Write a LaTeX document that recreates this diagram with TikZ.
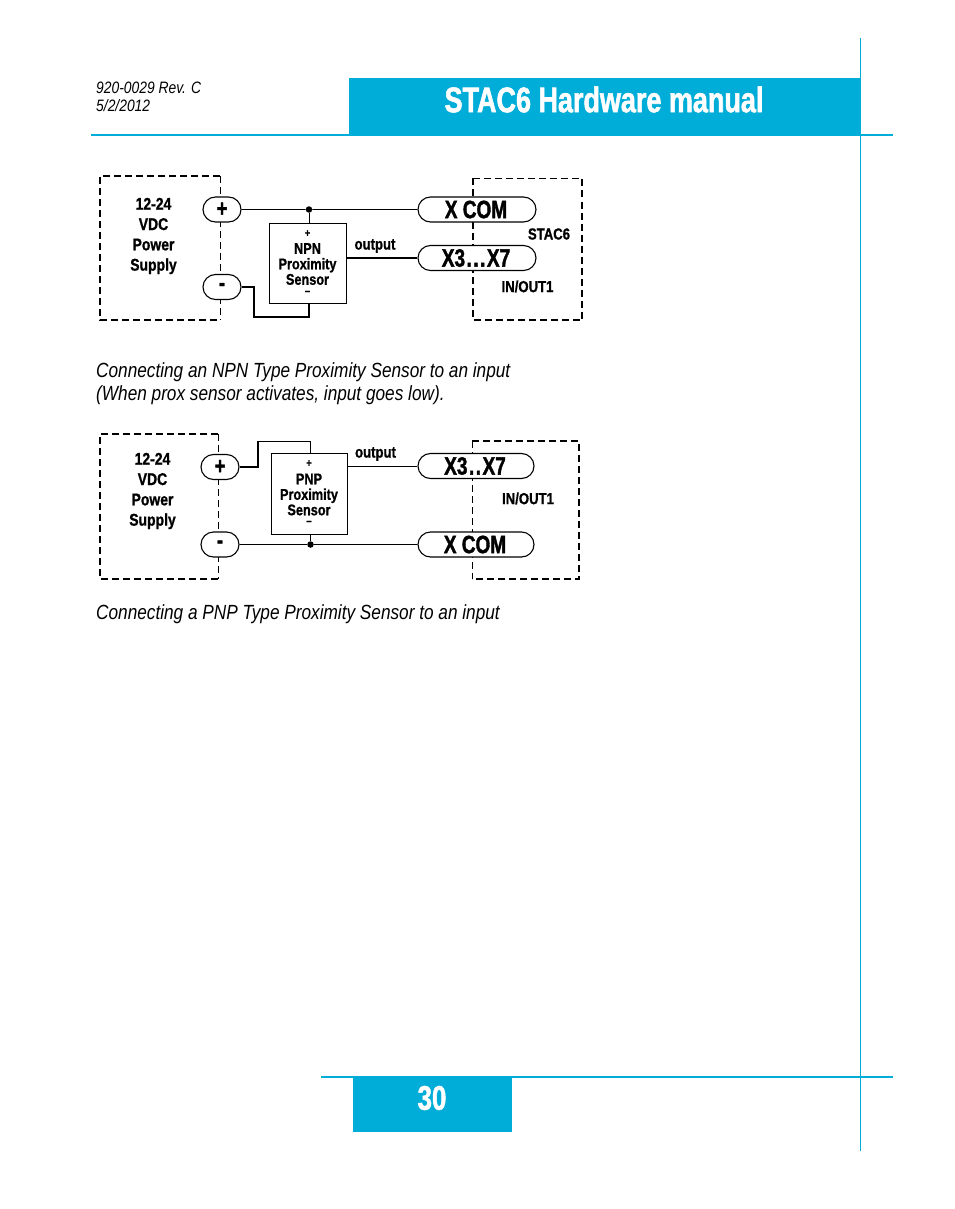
\documentclass[tikz,border=0pt]{standalone}
\usepackage{fontspec}
\setmainfont{Liberation Sans}
\newfontfamily\cond[FakeStretch=0.74,BoldFeatures={FakeBold=1.2}]{Liberation Sans}
\newfontfamily\condbig[FakeStretch=0.76,BoldFeatures={FakeBold=1.5}]{Liberation Sans}
\newfontfamily\condx[FakeStretch=0.82,BoldFeatures={FakeBold=0.9}]{Liberation Sans}
\newfontfamily\condit[FakeStretch=0.84]{Liberation Sans}
\usetikzlibrary{shapes.misc}
\definecolor{brand}{HTML}{00ADD8}
\tikzset{
  pill/.style={rounded rectangle,draw=black,line width=1.1pt,fill=white,inner sep=0pt,text=black},
  bigpill/.style={pill,font=\condbig\bfseries\fontsize{25}{25}\selectfont},
  sign/.style={pill,font=\condbig\bfseries\fontsize{24}{24}\selectfont},
  sensorbox/.style={draw=black,line width=0.95pt,inner sep=0pt,fill=white},
  wire/.style={line width=0.8pt,draw=black},
  thickwire/.style={line width=1.8pt,draw=black},
  dashA/.style={line width=1.4pt,dash pattern=on 7pt off 4pt},
  dashB/.style={line width=0.7pt,dash pattern=on 7pt off 4pt},
  junction/.style={circle,fill=black,inner sep=0pt,minimum size=6.5pt},
  smalllabel/.style={inner sep=0pt,align=center,font=\condx\bfseries\fontsize{17}{20.3}\selectfont},
  sensortext/.style={inner sep=0pt,align=center,font=\condx\bfseries\fontsize{15.5}{15.5}\selectfont},
  sensorsign/.style={inner sep=0pt,font=\condx\bfseries\fontsize{11}{11}\selectfont},
  tinylabel/.style={inner sep=0pt,font=\condx\bfseries\fontsize{16}{16}\selectfont},
  caption/.style={inner sep=0pt,anchor=west,font=\condit\itshape\fontsize{20.5}{20.5}\selectfont},
  header/.style={inner sep=0pt,anchor=west,font=\condit\itshape\fontsize{16.5}{16.5}\selectfont},
}
\newcommand{\sgn}[1]{\raisebox{-3pt}{#1}}
\begin{document}
\begin{tikzpicture}[x=1pt,y=-1pt]
\useasboundingbox (0,0) rectangle (954,1209);
\fill[white] (0,0) rectangle (954,1209);
% page frame
\fill[brand] (349,78) rectangle (860,135);
\fill[brand] (91,134) rectangle (893,136);
\draw[brand,line width=1pt] (860,38) -- (860,1151);
\fill[brand] (321,1076) rectangle (893,1078);
\fill[brand] (353,1077) rectangle (512,1132);
\node[inner sep=0pt,text=white,font=\condbig\bfseries\fontsize{35.5}{36}\selectfont] (title) at (604,99.5) {STAC6 Hardware manual};
\node[inner sep=0pt,text=white,font=\condbig\bfseries\fontsize{34}{34}\selectfont] (pagenum) at (432,1098) {30};
\node[header] (rev) at (96,87.5) {920-0029 Rev. C};
\node[header] (date) at (96,106) {5/2/2012};
% diagram 1
\draw[dashA] (220,176) -- (100,176) -- (100,320) -- (220,320);
\draw[dashB] (220,176) -- (220,320);
\draw[dashA] (473,178.5) -- (582,178.5) -- (582,320) -- (473,320) -- cycle;
\node[sign,minimum width=38pt,minimum height=25pt] (plusA) at (222,209.5) {\sgn{+}};
\node[sign,minimum width=38pt,minimum height=25pt] (minusA) at (222,287) {\sgn{-}};
\node[bigpill,minimum width=118pt,minimum height=25pt] (xcomA) at (477,209.5) {\hspace*{-2pt}X COM};
\node[bigpill,minimum width=118pt,minimum height=25pt] (xioA) at (477,258) {\hspace*{-2pt}X3\kern1.5pt.\kern1.5pt.\kern1.5pt.\kern1.5pt X7};
\node[sensorbox,minimum width=77pt,minimum height=80pt] (sensorA) at (307.5,263) {};
\node[junction] (dotA) at (309,209.5) {};
\draw[wire] (plusA) -- (dotA) -- (xcomA);
\draw[wire] (dotA) -- (dotA |- sensorA.north);
\draw[thickwire] (sensorA.east |- xioA.west) -- (xioA.west);
\coordinate (retA1) at (254,317);
\draw[thickwire] (minusA.east) -| (retA1) -- (retA1 -| dotA) -- (dotA |- sensorA.south);
\node[smalllabel] (supplyA) at (153.5,236) {12-24\\VDC\\Power\\Supply};
\node[sensorsign] (plusSA) at (307.5,233.5) {+};
\node[sensortext] (bodyA) at (307.5,264) {NPN\\Proximity\\Sensor};
\node[sensorsign] (minusSA) at (307.5,293) {−};
\node[tinylabel] (outA) at (375,246) {output};
\node[tinylabel] (stacA) at (549,234) {STAC6};
\node[tinylabel] (ioA) at (527.5,286.5) {IN/OUT1};
\node[caption] (capA1) at (96,372.5) {Connecting an NPN Type Proximity Sensor to an input};
\node[caption] (capA2) at (96,395.5) {(When prox sensor activates, input goes low).};
% diagram 2
\draw[dashA] (218,434) -- (100,434) -- (100,579) -- (218,579);
\draw[dashB] (218,434) -- (218,579);
\draw[dashA] (472,441) -- (579,441) -- (579,579) -- (472,579);
\draw[dashB] (472,441) -- (472,579);
\node[sign,minimum width=38pt,minimum height=25pt] (plusB) at (220,467) {\sgn{+}};
\node[sign,minimum width=38pt,minimum height=25pt] (minusB) at (220,544.5) {\sgn{-}};
\node[bigpill,minimum width=116pt,minimum height=25pt] (xioB) at (476,466) {\hspace*{-2pt}X3\kern1.5pt.\kern1.5pt.\kern1.5pt X7};
\node[bigpill,minimum width=116pt,minimum height=25pt] (xcomB) at (476,544.5) {\hspace*{-2pt}X COM};
\node[sensorbox,minimum width=76pt,minimum height=81pt] (sensorB) at (309,493.5) {};
\node[junction] (dotB) at (310.5,544.5) {};
\draw[wire] (minusB) -- (dotB) -- (xcomB);
\draw[wire] (dotB) -- (dotB |- sensorB.south);
\draw[wire] (sensorB.east |- xioB.west) -- (xioB.west);
\coordinate (retB1) at (258,441);
\draw[thickwire] (plusB.east) -| (retB1);
\draw[wire] (retB1) -- (retB1 -| dotB) -- (dotB |- sensorB.north);
\node[smalllabel] (supplyB) at (152.5,491) {12-24\\VDC\\Power\\Supply};
\node[sensorsign] (plusSB) at (309,463.5) {+};
\node[sensortext] (bodyB) at (309,494.5) {PNP\\Proximity\\Sensor};
\node[sensorsign] (minusSB) at (309,523) {−};
\node[tinylabel] (outB) at (375.5,454) {output};
\node[tinylabel] (ioB) at (528,498.5) {IN/OUT1};
\node[caption] (capB) at (96,614.5) {Connecting a PNP Type Proximity Sensor to an input};
\end{tikzpicture}
\end{document}
